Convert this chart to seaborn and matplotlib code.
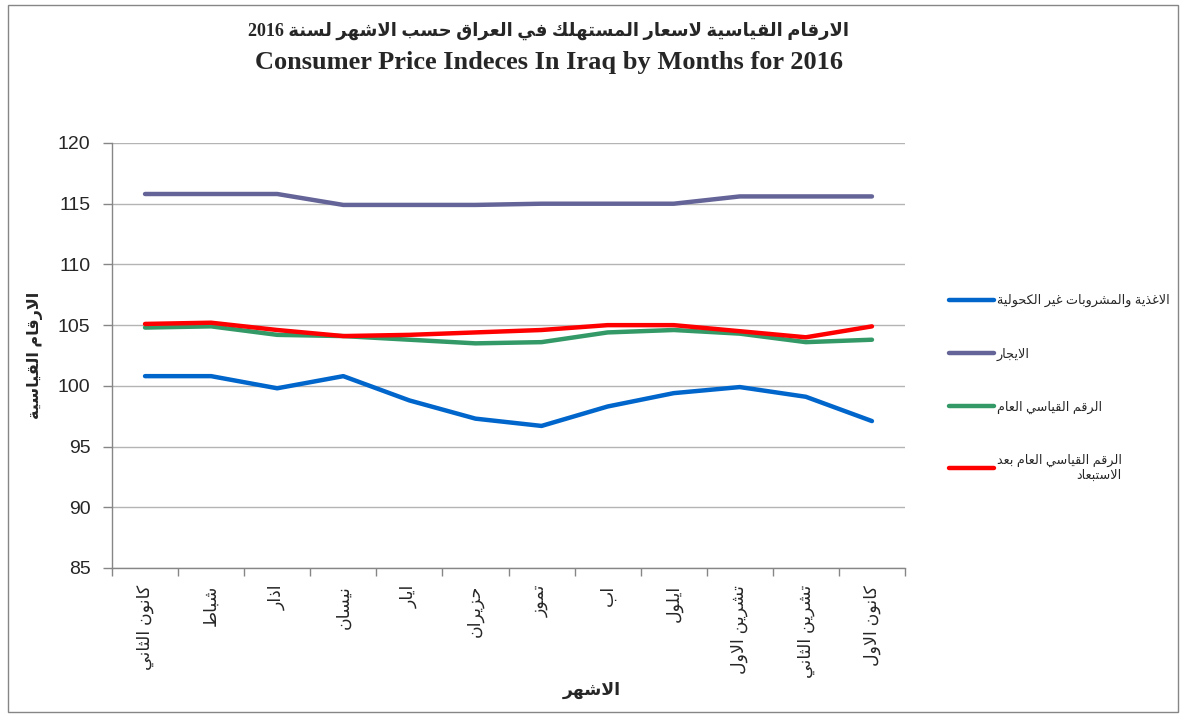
import re
import matplotlib
matplotlib.use("Agg")
import matplotlib.pyplot as plt
import matplotlib.patches as mpatches
from matplotlib.ticker import FixedLocator, NullFormatter
import seaborn as sns
import pandas as pd

# ---------------- data ----------------
months = ["كانون الثاني", "شباط", "اذار", "نيسان", "ايار", "حزيران",
          "تموز", "اب", "ايلول", "تشرين الاول", "تشرين الثاني", "كانون الاول"]
series_names = ["الاغذية والمشروبات غير الكحولية", "الايجار", "الرقم القياسي العام",
                "الرقم القياسي العام بعد\nالاستبعاد"]
food = [100.8, 100.8, 99.8, 100.8, 98.8, 97.3, 96.7, 98.3, 99.4, 99.9, 99.1, 97.1]
rent = [115.8, 115.8, 115.8, 114.9, 114.9, 114.9, 115.0, 115.0, 115.0, 115.6, 115.6, 115.6]
general = [104.8, 104.9, 104.2, 104.1, 103.8, 103.5, 103.6, 104.4, 104.6, 104.3, 103.6, 103.8]
general_excl = [105.1, 105.2, 104.6, 104.1, 104.2, 104.4, 104.6, 105.0, 105.0, 104.5, 104.0, 104.9]
y_ticks = [85, 90, 95, 100, 105, 110, 115, 120]
title_ar = "الارقام القياسية لاسعار المستهلك في العراق حسب الاشهر لسنة 2016"
title_en = "Consumer Price Indeces In Iraq by Months for 2016"
xlabel = "الاشهر"
ylabel = "الارقام القياسية"
colors = ["#0066CC", "#646498", "#339966", "#FF0000"]

# ---------------- minimal Arabic shaping ----------------
FORMS = {
    '\u0621': (0xFE80, 0), '\u0622': (0xFE81, 1), '\u0623': (0xFE83, 1),
    '\u0624': (0xFE85, 1), '\u0625': (0xFE87, 1), '\u0626': (0xFE89, 2),
    '\u0627': (0xFE8D, 1), '\u0628': (0xFE8F, 2), '\u0629': (0xFE93, 1),
    '\u062A': (0xFE95, 2), '\u062B': (0xFE99, 2), '\u062C': (0xFE9D, 2),
    '\u062D': (0xFEA1, 2), '\u062E': (0xFEA5, 2), '\u062F': (0xFEA9, 1),
    '\u0630': (0xFEAB, 1), '\u0631': (0xFEAD, 1), '\u0632': (0xFEAF, 1),
    '\u0633': (0xFEB1, 2), '\u0634': (0xFEB5, 2), '\u0635': (0xFEB9, 2),
    '\u0636': (0xFEBD, 2), '\u0637': (0xFEC1, 2), '\u0638': (0xFEC5, 2),
    '\u0639': (0xFEC9, 2), '\u063A': (0xFECD, 2), '\u0641': (0xFED1, 2),
    '\u0642': (0xFED5, 2), '\u0643': (0xFED9, 2), '\u0644': (0xFEDD, 2),
    '\u0645': (0xFEE1, 2), '\u0646': (0xFEE5, 2), '\u0647': (0xFEE9, 2),
    '\u0648': (0xFEED, 1), '\u0649': (0xFEEF, 1), '\u064A': (0xFEF1, 2),
}
LAM_ALEF = {'\u0622': 0xFEF5, '\u0623': 0xFEF7, '\u0625': 0xFEF9, '\u0627': 0xFEFB}


def _shape_line(text):
    tokens = []
    i = 0
    while i < len(text):
        c = text[i]
        if c == '\u0644' and i + 1 < len(text) and text[i + 1] in LAM_ALEF:
            tokens.append(('LA', text[i + 1]))
            i += 2
        else:
            tokens.append(('C', c))
            i += 1

    def jt(tok):
        if tok[0] == 'LA':
            return 1
        return FORMS[tok[1]][1] if tok[1] in FORMS else -1

    res = []
    for k, tok in enumerate(tokens):
        t = jt(tok)
        if t < 0:
            res.append(tok[1])
            continue
        pt = jt(tokens[k - 1]) if k > 0 else -1
        nt = jt(tokens[k + 1]) if k + 1 < len(tokens) else -1
        cp = pt == 2 and t >= 1
        cn = t == 2 and nt >= 1
        base = LAM_ALEF[tok[1]] if tok[0] == 'LA' else FORMS[tok[1]][0]
        if t == 0:
            f = 0
        elif t == 1:
            f = 1 if cp else 0
        else:
            f = {(False, False): 0, (True, False): 1, (False, True): 2, (True, True): 3}[(cp, cn)]
        res.append(chr(base + f))
    s = ''.join(res)[::-1]
    s = re.sub(r'[0-9]+', lambda m: m.group(0)[::-1], s)
    return s


def ar(text):
    return '\n'.join(_shape_line(l) for l in text.split('\n'))


# ---------------- dataframe ----------------
rows = []
for name, vals in zip(series_names, [food, rent, general, general_excl]):
    for i, v in enumerate(vals):
        rows.append({"idx": i, "value": v, "series": name})
df = pd.DataFrame(rows)

sns.set_theme(style="white")
plt.rcParams['font.family'] = ['Liberation Sans', 'DejaVu Sans']

fig = plt.figure(figsize=(11.86, 7.17), dpi=100)
fig.patch.set_facecolor("white")
fig.patches.append(mpatches.Rectangle((8 / 1186, 5 / 717), 1170 / 1186, 707 / 717,
                                      transform=fig.transFigure, fill=False,
                                      edgecolor="#868686", linewidth=1))

ax = fig.add_axes([112 / 1186, 1 - 568 / 717, (905 - 112) / 1186, (568 - 143) / 717])

sns.lineplot(data=df, x="idx", y="value", hue="series", hue_order=series_names,
             palette=colors, linewidth=3.2, sort=False, legend=False, ax=ax)
for ln in ax.lines:
    ln.set_solid_joinstyle("round")
    ln.set_solid_capstyle("round")

ax.set_xlim(-0.5, len(months) - 0.5)
ax.set_ylim(y_ticks[0], y_ticks[-1])
ax.set_yticks(y_ticks)
ax.set_yticklabels([str(t) for t in y_ticks], fontsize=14)
ax.yaxis.grid(True, color="#B4B4B4", linewidth=1)
ax.xaxis.grid(False)
ax.set_xticks(range(len(months)))
ax.set_xticklabels([ar(m) for m in months], rotation=90, fontsize=12.5,
                   va="top", ha="center")
ax.xaxis.set_minor_locator(FixedLocator([i - 0.5 for i in range(len(months) + 1)]))
ax.xaxis.set_minor_formatter(NullFormatter())
ax.tick_params(axis="x", which="major", length=0, pad=12)
ax.tick_params(axis="x", which="minor", length=6, color="#868686", width=1, direction="out", bottom=True)
ax.tick_params(axis="y", which="major", length=6.5, color="#868686", width=1, direction="out", left=True, pad=9)
for side in ["top", "right"]:
    ax.spines[side].set_visible(False)
for side in ["left", "bottom"]:
    ax.spines[side].set_color("#868686")
    ax.spines[side].set_linewidth(1)
ax.set_xlabel("")
ax.set_ylabel("")

fig.text(35 / 1186, 1 - 355 / 717, ar(ylabel), rotation=90, ha="center", va="center",
         fontsize=11.5, fontweight="bold")
fig.text(592 / 1186, 1 - 690 / 717, ar(xlabel), ha="center", va="center",
         fontsize=12.5, fontweight="bold")

fig.text(549 / 1186, 1 - 31 / 717, ar(title_ar), ha="center", va="center",
         fontsize=13, fontweight="bold", family=['Liberation Serif', 'DejaVu Sans'])
fig.text(549 / 1186, 1 - 62 / 717, title_en, ha="center", va="center",
         fontsize=19, fontweight="bold", family=['Liberation Serif', 'DejaVu Sans'])

leg = ax.legend(handles=ax.lines[:4], labels=[ar(s) for s in series_names],
                loc="upper left", bbox_to_anchor=(949 / 1186, 1 - 294 / 717),
                bbox_transform=fig.transFigure, frameon=False, fontsize=9.2,
                handlelength=3.5, handletextpad=0.25, labelspacing=3.15,
                borderpad=0, borderaxespad=0)
for t in leg.get_texts():
    t.set_multialignment("right")

fig.savefig("out.png", dpi=100, facecolor="white")
